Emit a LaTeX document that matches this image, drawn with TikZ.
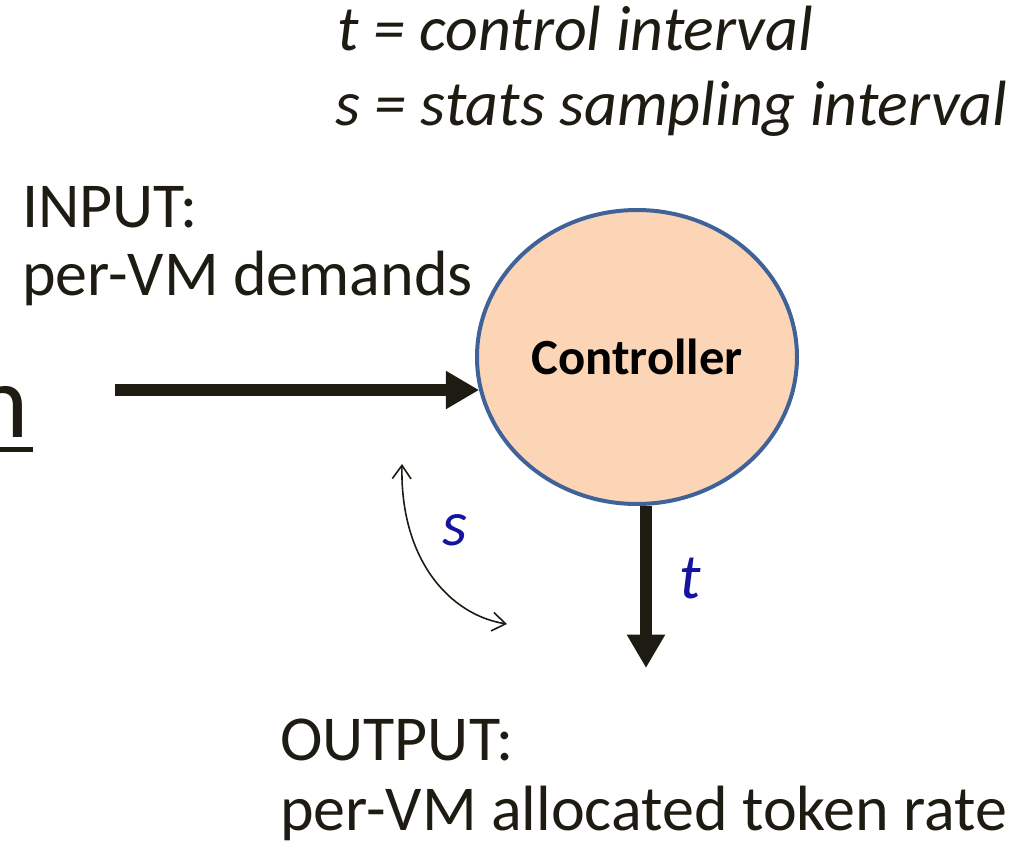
\documentclass[tikz,border=0pt]{standalone}
\usepackage{fontspec}
\setmainfont{Carlito}
\usetikzlibrary{arrows.meta,shapes.geometric}
\definecolor{ink}{HTML}{1E1C12}
\definecolor{peach}{HTML}{FBD5B5}
\definecolor{rim}{HTML}{3F6399}
\definecolor{varblue}{HTML}{1414A0}
\tikzset{
  label text/.style={anchor=base west, inner sep=0pt, text=ink, font=\fontsize{48}{57}\selectfont},
  var text/.style={anchor=base west, inner sep=0pt, text=varblue, font=\fontsize{48}{57}\selectfont\itshape},
  flow/.style={draw=ink, line width=9pt, -{Triangle[length=25pt,width=27pt]}},
  cycle arrow/.style={draw=ink, line width=1.2pt, {Straight Barb[length=10pt,width=14pt]}-{Straight Barb[length=10pt,width=14pt]}},
}
\begin{document}
\begin{tikzpicture}[x=0.75pt, y=-0.75pt]
  \useasboundingbox (0,0) rectangle (1029,847);

  % legend
  \node[label text, font=\fontsize{48}{57}\selectfont\itshape] (legt) at (337,50) {t = control interval};
  \node[label text, font=\fontsize{48}{57}\selectfont\itshape] (legs) at (335,125) {s = stats sampling interval};

  % input / output captions
  \node[label text] (inhead) at (22,227) {INPUT:};
  \node[label text] (inbody) at (22,295) {per-VM demands};
  \node[label text] (outhead) at (280,760) {OUTPUT:};
  \node[label text] (outbody) at (280,830) {per-VM allocated token rate};

  % trailing letter of the underlined word on the left
  \node[anchor=base east, inner sep=0pt, text=ink, font=\fontsize{79}{90}\selectfont] (word) at (29,437) {n};
  \fill[ink] (0,447) rectangle (33,452);

  % controller
  \node[ellipse, draw=rim, line width=3pt, fill=peach,
        minimum width=240pt, minimum height=220.5pt, inner sep=0pt,
        font=\fontsize{38}{45}\selectfont\bfseries, text=black] (ctrl) at (637,357) {Controller};

  % input and output flows
  \coordinate (inStart) at (115,390);
  \draw[flow] (inStart) -- (inStart -| ctrl.192);
  \coordinate (outEnd) at (646,668);
  \draw[flow] (outEnd |- ctrl.south) -- (outEnd);

  % sampling cycle
  \coordinate (cycTop) at (402,464);
  \coordinate (cycEnd) at (507,624);
  \draw[cycle arrow] (cycTop) .. controls (400,560) and (450,615) .. (cycEnd);

  \node[var text] (svar) at (442,545) {s};
  \node[var text] (tvar) at (679,598) {t};
\end{tikzpicture}
\end{document}
